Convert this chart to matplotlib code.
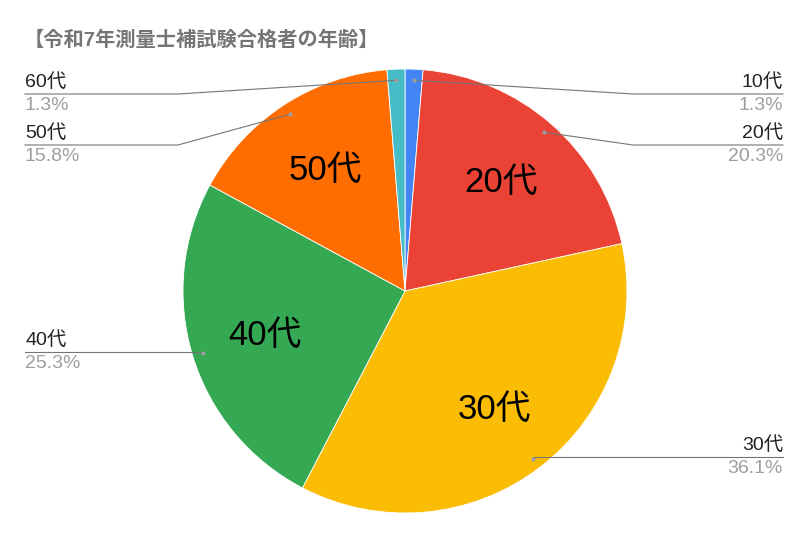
import numpy as np
import matplotlib
matplotlib.use('Agg')
import matplotlib.pyplot as plt

# data
labels = ['10代', '20代', '30代', '40代', '50代', '60代']
shares = [1.3, 20.3, 36.1, 25.3, 15.8, 1.3]
pct_text = ['1.3%', '20.3%', '36.1%', '25.3%', '15.8%', '1.3%']
colors = ['#4285F4', '#EA4335', '#FBBC04', '#34A853', '#FF6D01', '#46BDC6']
title = '【令和7年測量士補試験合格者の年齢】'

plt.rcParams['font.family'] = ['Liberation Sans', 'Noto Sans CJK JP', 'DejaVu Sans']

W, H = 810, 540
fig = plt.figure(figsize=(8.1, 5.4), dpi=100)
ax = fig.add_axes([0, 0, 1, 1])

cx, cy, R = 405, H - 291, 222
wedges, _ = ax.pie(shares, colors=colors, startangle=90, counterclock=False,
                   center=(cx, cy), radius=R, frame=True,
                   wedgeprops=dict(edgecolor='white', linewidth=0.6))
ax.set_xlim(0, W)
ax.set_ylim(0, H)
ax.set_aspect('equal')
ax.axis('off')

# leader layout: (side, line y in px from top, elbow x)
side = ['r', 'r', 'r', 'l', 'l', 'l']
line_y = [94, 145, 457, 352, 145, 94]
elbow_x = [633, 633, None, None, 178, 178]
big = [False, True, True, True, True, False]

for i, w in enumerate(wedges):
    mid = np.deg2rad((w.theta1 + w.theta2) / 2)
    dx, dy = np.cos(mid), np.sin(mid)
    if big[i]:
        ax.text(cx + 0.66 * R * dx, cy + 0.66 * R * dy - 2, labels[i], fontsize=25,
                ha='center', va='center', color='black')
    px, py = cx + 0.95 * R * dx, cy + 0.95 * R * dy
    ly = H - line_y[i]
    xend = 783 if side[i] == 'r' else 25
    if elbow_x[i] is None:
        xs, ys = [px, xend], [ly, ly]
    else:
        xs, ys = [px, elbow_x[i], xend], [py, ly, ly]
    ax.plot(xs, ys, color='#757575', lw=0.8)
    ax.plot(px, py, 'o', color='#9e9e9e', ms=2)
    ha = 'right' if side[i] == 'r' else 'left'
    ax.text(xend, ly + 3, labels[i], fontsize=14, ha=ha, va='bottom', color='#222222')
    ax.text(xend, ly - 3, pct_text[i], fontsize=14, ha=ha, va='top', color='#9e9e9e')

ax.text(24, H - 40, title, fontsize=14.6, fontweight='bold', color='#757575',
        ha='left', va='center')

fig.savefig('out.png', dpi=100)
